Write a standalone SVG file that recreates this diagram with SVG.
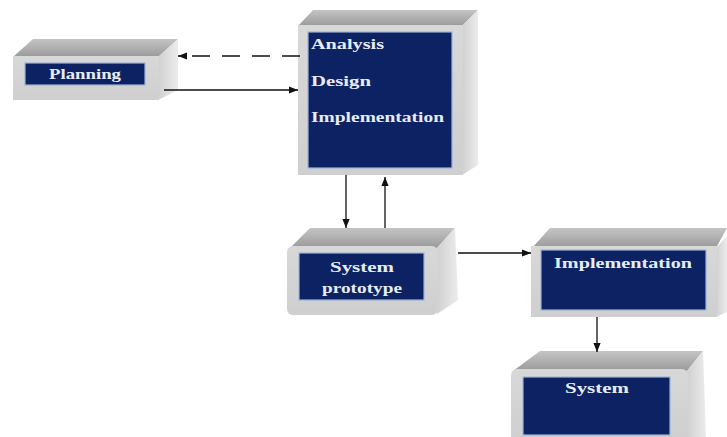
<svg xmlns="http://www.w3.org/2000/svg" width="727" height="437" viewBox="0 0 727 437">
<defs>
<linearGradient id="gTop" x1="0" y1="0" x2="0" y2="1">
<stop offset="0" stop-color="#c4c4c4"/><stop offset="1" stop-color="#9a9a9a"/>
</linearGradient>
<linearGradient id="gSide" x1="0" y1="0" x2="1" y2="0">
<stop offset="0" stop-color="#d0d0d0"/><stop offset="1" stop-color="#ececec"/>
</linearGradient>
<linearGradient id="gFront" x1="0" y1="0" x2="0" y2="1">
<stop offset="0" stop-color="#d8d8d8"/><stop offset="1" stop-color="#cfcfcf"/>
</linearGradient>
<marker id="ah" viewBox="0 0 10 10" refX="10" refY="5" markerWidth="9" markerHeight="9" markerUnits="userSpaceOnUse" orient="auto">
<path d="M0,1 L10,5 L0,9 z" fill="#111"/>
</marker>
</defs>
<style>
.top{fill:url(#gTop)}
.side{fill:url(#gSide)}
.front{fill:url(#gFront)}
.inner{fill:#0c2263;stroke:#9fb3d4;stroke-width:1.2}
.lbl{font-family:"Liberation Serif",serif;font-weight:bold;font-size:15px;fill:#e6ecf4}
.c{text-anchor:middle}
.conn{stroke:#111;stroke-width:1.3;fill:none;marker-end:url(#ah)}
</style>
<rect width="727" height="437" fill="#ffffff"/>

<g id="planning">
<polygon class="top" points="13,57 33,39 178,39 158,57"/>
<polygon class="side" points="158,57 178,39 178,90 158,100"/>
<rect class="front" x="13" y="56" width="146" height="44"/>
<rect class="inner" x="25" y="63" width="120" height="22"/>
<text class="lbl c" x="85" y="79" textLength="72" lengthAdjust="spacingAndGlyphs">Planning</text>
</g>

<g id="analysis">
<polygon class="top" points="298,26 313,10 478,10 462,26"/>
<polygon class="side" points="462,26 478,10 478,165 462,175"/>
<rect class="front" x="298" y="25" width="165" height="150"/>
<rect class="inner" x="308" y="32" width="144" height="136"/>
<text class="lbl" x="311" y="49" textLength="73" lengthAdjust="spacingAndGlyphs">Analysis</text>
<text class="lbl" x="311" y="86" textLength="60" lengthAdjust="spacingAndGlyphs">Design</text>
<text class="lbl" x="311" y="122" textLength="133" lengthAdjust="spacingAndGlyphs">Implementation</text>
</g>

<g id="prototype">
<polygon class="top" points="290,248 310,228 455,228 437,248"/>
<polygon class="side" points="437,248 455,228 458,300 437,314"/>
<rect class="front" x="287" y="246" width="151" height="69" rx="6"/>
<rect class="inner" x="299" y="253" width="125" height="47"/>
<text class="lbl c" x="362" y="272" textLength="64" lengthAdjust="spacingAndGlyphs">System</text>
<text class="lbl c" x="362" y="293" textLength="80" lengthAdjust="spacingAndGlyphs">prototype</text>
</g>

<g id="implementation">
<polygon class="top" points="532,248 550,228 727,228 716,248"/>
<polygon class="side" points="716,248 727,236 727,312 716,317"/>
<rect class="front" x="531" y="246" width="186" height="71"/>
<rect class="inner" x="541" y="250" width="165" height="60"/>
<text class="lbl c" x="623" y="268" textLength="138" lengthAdjust="spacingAndGlyphs">Implementation</text>
</g>

<g id="system">
<polygon class="top" points="513,371 540,351 703,351 687,371"/>
<polygon class="side" points="687,371 703,351 706,437 687,437"/>
<rect class="front" x="511" y="369" width="177" height="72" rx="6"/>
<rect class="inner" x="523" y="377" width="147" height="58"/>
<text class="lbl c" x="597" y="393" textLength="64" lengthAdjust="spacingAndGlyphs">System</text>
</g>

<g id="connectors">
<line class="conn" x1="300" y1="56" x2="178" y2="56" stroke-dasharray="18,12"/>
<line class="conn" x1="164" y1="90" x2="298" y2="90"/>
<line class="conn" x1="346" y1="175" x2="346" y2="228"/>
<line class="conn" x1="385" y1="228" x2="385" y2="177"/>
<line class="conn" x1="458" y1="253" x2="531" y2="253"/>
<line class="conn" x1="597" y1="317" x2="597" y2="352"/>
</g>
</svg>
